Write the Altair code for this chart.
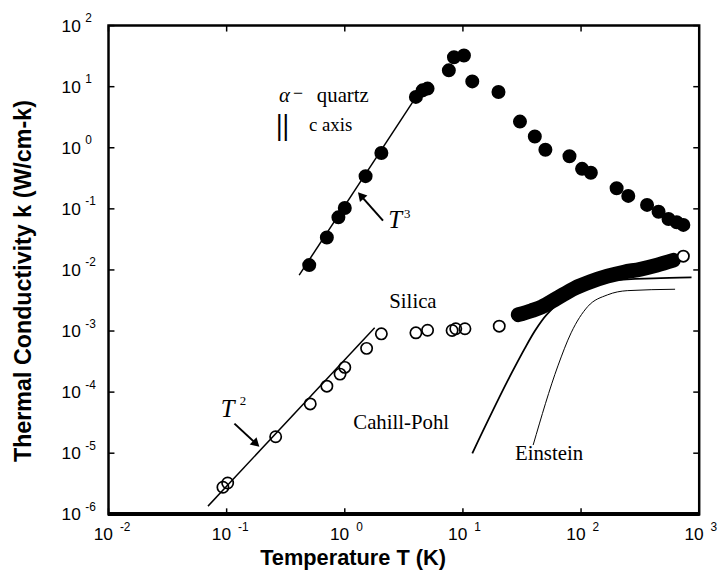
import altair as alt
import pandas as pd

# ---------------- data ----------------
quartz_T = [0.50, 0.705, 0.883, 1.0, 1.50, 2.04, 4.0, 4.56, 5.02, 7.6, 8.4, 10.2, 12.0,
            20.0, 30.4, 40.6, 49.9, 79.8, 102, 121, 200, 251, 362, 453, 550, 645, 734]
quartz_k = [0.012, 0.034, 0.0726, 0.103, 0.343, 0.82, 6.8, 8.7, 9.3, 18.5, 30.3, 32.3, 12.2,
            8.2, 2.68, 1.53, 0.93, 0.726, 0.452, 0.389, 0.217, 0.163, 0.116, 0.0897, 0.0684, 0.0603, 0.0546]

silica_T = [0.093, 0.102, 0.260, 0.51, 0.705, 0.912, 1.0, 1.53, 2.04, 4.0, 5.02, 8.1, 8.7, 10.4, 20.3]
silica_k = [2.77e-6, 3.25e-6, 1.86e-5, 6.4e-5, 1.25e-4, 1.97e-4, 2.54e-4, 5.2e-4, 9.0e-4,
            9.35e-4, 1.03e-3, 1.02e-3, 1.09e-3, 1.09e-3, 1.20e-3]

# dense high-temperature silica data (appears as a black band)
band_T = [29.4, 38.0, 46.3, 62.0, 87.9, 120, 167, 230, 318, 440, 605]
band_k = [1.85e-3, 2.15e-3, 2.47e-3, 3.4e-3, 5.0e-3, 6.4e-3, 7.9e-3, 9.2e-3, 1.03e-2, 1.20e-2, 1.44e-2]
band_end_T = [734]
band_end_k = [0.0168]

# T^2 and T^3 power-law guides
t2_T = [0.0695, 1.79]
t2_k = [1.36e-6, 1.13e-3]
t3_T = [0.411, 4.56]
t3_k = [8.2e-3, 9.9]

# Cahill-Pohl and Einstein model curves
cp_T = [12.0, 26.0, 33.5, 40.6, 46.2, 59.7, 100, 190, 411, 861]
cp_k = [9.95e-6, 2.1e-4, 5.25e-4, 1.0e-3, 1.45e-3, 2.5e-3, 4.7e-3, 6.8e-3, 7.3e-3, 7.55e-3]
ein_T = [39.3, 63.7, 82.4, 114, 167, 246, 625]
ein_k = [1.36e-5, 2.69e-4, 9.35e-4, 2.52e-3, 3.9e-3, 4.58e-3, 4.83e-3]

# axes
x_ticks = [1e-2, 1e-1, 1e0, 1e1, 1e2, 1e3]
x_exp = ["-2", "-1", "0", "1", "2", "3"]
y_ticks = [1e-6, 1e-5, 1e-4, 1e-3, 1e-2, 1e-1, 1e0, 1e1, 1e2]
y_exp = ["-6", "-5", "-4", "-3", "-2", "-1", "0", "1", "2"]

x_title = "Temperature  T (K)"
y_title = "Thermal Conductivity  k (W/cm-k)"

# ---------------- chart ----------------
W, H = 596.5, 493.5
xs = alt.Scale(type="log", domain=[0.01, 1000])
ys = alt.Scale(type="log", domain=[1e-6, 100])
SERIF = "Liberation Serif"
SANS = "Liberation Sans"


def X(f="T"):
    return alt.X(f"{f}:Q", scale=xs, axis=None)


def Y(f="k"):
    return alt.Y(f"{f}:Q", scale=ys, axis=None)


def df(T, k):
    return pd.DataFrame({"T": T, "k": k})


layers = []

# guide lines and model curves
layers.append(alt.Chart(df(t2_T, t2_k)).mark_line(color="black", strokeWidth=1.5).encode(x=X(), y=Y()))
layers.append(alt.Chart(df(t3_T, t3_k)).mark_line(color="black", strokeWidth=1.5).encode(x=X(), y=Y()))
layers.append(alt.Chart(df(cp_T, cp_k)).mark_line(color="black", strokeWidth=1.8, interpolate="monotone").encode(x=X(), y=Y()))
layers.append(alt.Chart(df(ein_T, ein_k)).mark_line(color="black", strokeWidth=1.0, interpolate="monotone").encode(x=X(), y=Y()))

# silica band
layers.append(alt.Chart(df(band_T, band_k)).mark_line(color="black", strokeWidth=15, strokeCap="round",
                                                      interpolate="monotone").encode(x=X(), y=Y()))
layers.append(alt.Chart(df(band_T, band_k)).mark_point(shape="circle", filled=False, color="black", size=130,
                                                       strokeWidth=1.8, opacity=1).encode(x=X(), y=Y()))
layers.append(alt.Chart(df(band_end_T, band_end_k)).mark_point(shape="circle", fill="white", stroke="black",
                                                               size=130, strokeWidth=1.8, opacity=1,
                                                               fillOpacity=1).encode(x=X(), y=Y()))
# silica open circles
layers.append(alt.Chart(df(silica_T, silica_k)).mark_point(shape="circle", filled=False, color="black", size=130,
                                                           strokeWidth=1.7, opacity=1).encode(x=X(), y=Y()))
# quartz filled circles
layers.append(alt.Chart(df(quartz_T, quartz_k)).mark_circle(color="black", size=200, opacity=1).encode(x=X(), y=Y()))

# arrows
arrows = pd.DataFrame({"T": [2.107, 0.1164], "k": [0.0641, 3.05e-5],
                       "T2": [1.367, 0.178], "k2": [0.165, 1.42e-5], "a": [318.5, 133.0]})
layers.append(alt.Chart(arrows).mark_rule(color="black", strokeWidth=2).encode(
    x=X(), y=Y(), x2="T2:Q", y2="k2:Q"))
layers.append(alt.Chart(arrows).mark_point(shape="triangle-up", filled=True, color="black", size=100, opacity=1).encode(
    x=X("T2"), y=Y("k2"), angle=alt.Angle("a:Q", scale=None)))


def note(T, k, text, size, dx=0, dy=0, style="normal", weight="normal", font=SERIF):
    return alt.Chart(pd.DataFrame({"T": [T], "k": [k], "t": [text]})).mark_text(
        font=font, fontSize=size, fontStyle=style, fontWeight=weight, align="left", baseline="alphabetic",
        dx=dx, dy=dy, color="black").encode(x=X(), y=Y(), text="t:N")


# annotations (anchors in data space)
layers += [
    note(0.277, 5.65, "α", 21, style="italic"),
    note(0.277, 5.65, "−", 18, dx=14.3, dy=-3),
    note(0.277, 5.65, "quartz", 21, dx=38.3),
    note(0.277, 1.85, "||", 30, dx=-3, dy=3.5, weight="bold"),
    note(0.277, 1.85, "c axis", 19, dx=30.3),
    note(2.33, 0.0494, "T", 25, style="italic"),
    note(2.33, 0.0494, "3", 13, dx=16, dy=-10),
    note(0.0893, 3.96e-5, "T", 25, style="italic"),
    note(0.0893, 3.96e-5, "2", 13, dx=19, dy=-11.5),
    note(2.38, 2.4e-3, "Silica", 21),
    note(1.18, 2.48e-5, "Cahill-Pohl", 21),
    note(27.6, 7.76e-6, "Einstein", 21),
]

# ticks (inward, all four sides)
xt = pd.DataFrame({"T": x_ticks, "e": x_exp})
yt = pd.DataFrame({"k": y_ticks, "e": y_exp})
layers.append(alt.Chart(xt).mark_rule(color="black", strokeWidth=1.5).encode(x=X(), y=alt.value(H), y2=alt.value(H - 6)))
layers.append(alt.Chart(xt).mark_rule(color="black", strokeWidth=1.5).encode(x=X(), y=alt.value(0), y2=alt.value(6)))
layers.append(alt.Chart(yt).mark_rule(color="black", strokeWidth=1.5).encode(y=Y(), x=alt.value(0), x2=alt.value(6)))
layers.append(alt.Chart(yt).mark_rule(color="black", strokeWidth=1.5).encode(y=Y(), x=alt.value(W), x2=alt.value(W - 6)))
# heavier bottom frame line
layers.append(alt.Chart(xt).mark_rule(color="black", strokeWidth=3.5).encode(
    x=alt.value(0), x2=alt.value(W), y=alt.value(H)))

# tick labels: "10" + superscript exponent
layers.append(alt.Chart(xt).mark_text(font=SANS, fontSize=17.5, align="right", baseline="middle", dx=4.5,
                                      color="black").encode(x=X(), y=alt.value(H + 20.5), text=alt.value("10")))
layers.append(alt.Chart(xt).mark_text(font=SANS, fontSize=12, align="left", baseline="middle", dx=11.5,
                                      color="black").encode(x=X(), y=alt.value(H + 12.5), text="e:N"))
layers.append(alt.Chart(yt).mark_text(font=SANS, fontSize=17.5, align="right", baseline="middle", dy=1,
                                      color="black").encode(y=Y(), x=alt.value(-28), text=alt.value("10")))
layers.append(alt.Chart(yt).mark_text(font=SANS, fontSize=12, align="left", baseline="middle", dy=-7.5,
                                      color="black").encode(y=Y(), x=alt.value(-23.5), text="e:N"))

# axis titles
layers.append(alt.Chart(pd.DataFrame({"t": [x_title]})).mark_text(
    font=SANS, fontSize=22, fontWeight="bold", align="center", baseline="middle", color="black").encode(
    text="t:N", x=alt.value(247), y=alt.value(538)))
layers.append(alt.Chart(pd.DataFrame({"t": [y_title]})).mark_text(
    font=SANS, fontSize=23.5, fontWeight="bold", align="center", baseline="middle", angle=270, color="black").encode(
    text="t:N", x=alt.value(-85.5), y=alt.value(258)))

chart = alt.layer(*layers).properties(
    width=W, height=H,
    autosize=alt.AutoSizeParams(type="none"),
    padding={"left": 101.5, "top": 15, "right": 20, "bottom": 54},
    background="white",
).configure_view(stroke="black", strokeWidth=2.5)

chart.save("out.html", embed_options={"renderer": "svg", "actions": False})
